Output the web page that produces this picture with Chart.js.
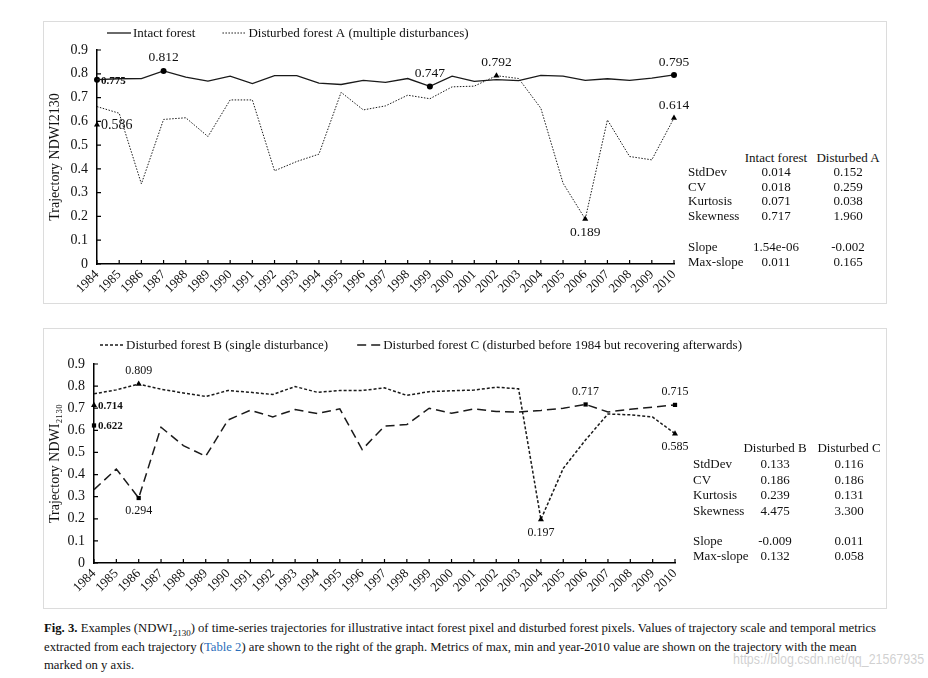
<!DOCTYPE html>
<html>
<head>
<meta charset="utf-8">
<script src="https://cdn.jsdelivr.net/npm/chart.js@4.4.0/dist/chart.umd.min.js"></script>
<style>
  body { margin: 0; background: #fff; width: 928px; height: 678px; position: relative; overflow: hidden;
         font-family: "Liberation Serif", "Times New Roman", serif; color: #111; }
  .panel { position: absolute; left: 43px; width: 842px; border: 1px solid #dcdcdc; }
  #p1 { top: 21px; height: 281px; }
  #p2 { top: 328px; height: 279px; }
  .panel canvas { position: absolute; left: 0; top: 0; }
  .cell { position: absolute; white-space: nowrap; font-size: 13px; line-height: 16px; transform: translateY(-50%); }
  .mid { transform: translate(-50%, -50%); }
  #caption { position: absolute; left: 44px; top: 619px; font-size: 12.7px; line-height: 18.5px; color: #111; white-space: nowrap; }
  #caption sub { font-size: 9px; line-height: 0; }
  #caption a { color: #2a6ebb; text-decoration: none; }
  #wm { position: absolute; left: 733px; top: 650px; font-family: "Liberation Sans", sans-serif;
        font-size: 15px; color: rgba(170,170,170,0.55); white-space: nowrap;
        transform: scaleX(0.83); transform-origin: left center; }
</style>
</head>
<body>
<div class="panel" id="p1"><canvas id="chartTop" width="650" height="280"></canvas></div>
<div class="panel" id="p2"><canvas id="chartBottom" width="740" height="278"></canvas></div>
<div id="caption">
  <b>Fig. 3.</b> Examples (NDWI<sub>2130</sub>) of time-series trajectories for illustrative intact forest pixel and disturbed forest pixels. Values of trajectory scale and temporal metrics<br>
  extracted from each trajectory (<a>Table 2</a>) are shown to the right of the graph. Metrics of max, min and year-2010 value are shown on the trajectory with the mean<br>
  marked on y axis.
</div>
<div id="wm">https://blog.csdn.net/qq_21567935</div>

<script>
// years on the x axis
const years = ["1984", "1985", "1986", "1987", "1988", "1989", "1990", "1991", "1992", "1993", "1994",
  "1995", "1996", "1997", "1998", "1999", "2000", "2001", "2002", "2003", "2004", "2005", "2006",
  "2007", "2008", "2009", "2010"]
const yTickValues = [0, 0.1, 0.2, 0.3, 0.4, 0.5, 0.6, 0.7, 0.8, 0.9]

// NDWI2130 trajectories
const intact = [0.775, 0.779, 0.780, 0.812, 0.786, 0.769, 0.790, 0.759, 0.792, 0.792, 0.761, 0.755, 0.772, 0.764,
  0.780, 0.747, 0.790, 0.768, 0.775, 0.771, 0.793, 0.790, 0.772, 0.779, 0.772, 0.782, 0.795]
const distA = [0.662, 0.634, 0.337, 0.608, 0.615, 0.536, 0.690, 0.690, 0.392, 0.431, 0.462, 0.722, 0.648, 0.665,
  0.710, 0.695, 0.745, 0.748, 0.792, 0.780, 0.655, 0.340, 0.189, 0.606, 0.452, 0.438, 0.614]
const distB = [0.765, 0.783, 0.809, 0.786, 0.769, 0.753, 0.780, 0.772, 0.762, 0.798, 0.772, 0.780, 0.780, 0.792,
  0.758, 0.775, 0.779, 0.782, 0.795, 0.788, 0.197, 0.428, 0.557, 0.674, 0.670, 0.660, 0.585]
const distC = [0.332, 0.425, 0.294, 0.614, 0.531, 0.483, 0.647, 0.691, 0.661, 0.694, 0.676, 0.697, 0.513, 0.619,
  0.626, 0.700, 0.677, 0.697, 0.685, 0.683, 0.690, 0.700, 0.717, 0.683, 0.695, 0.705, 0.715]

// means marked on the y axis
const intactMean = 0.775
const distAMean = 0.586
const distBMean = 0.714
const distCMean = 0.622

// metrics tables
const metricNames = ["StdDev", "CV", "Kurtosis", "Skewness", "Slope", "Max-slope"]
const intactMetrics = ["0.014", "0.018", "0.071", "0.717", "1.54e-06", "0.011"]
const distAMetrics = ["0.152", "0.259", "0.038", "1.960", "-0.002", "0.165"]
const distBMetrics = ["0.133", "0.186", "0.239", "4.475", "-0.009", "0.132"]
const distCMetrics = ["0.116", "0.186", "0.131", "3.300", "0.011", "0.058"]

const SERIF = "'Liberation Serif', 'Times New Roman', serif"

// index of max, min and last value
function markIndices(arr) {
  let hi = 0, lo = 0
  arr.forEach((v, i) => { if (v > arr[hi]) hi = i; if (v < arr[lo]) lo = i })
  return [hi, lo, arr.length - 1]
}

// one trajectory: max / min / 2010 get a marker and a value label
function trajectory(name, data, style, dash, width, radius, positions) {
  const idx = markIndices(data)
  return {
    label: name, data: data, borderColor: "#1a1a1a", borderWidth: width, borderDash: dash,
    pointStyle: style, pointRadius: data.map((v, i) => idx.includes(i) ? radius : 0),
    pointBackgroundColor: "#000", pointBorderColor: "#000", pointBorderWidth: 0,
    tension: 0, fill: false, clip: false,
    marks: idx.map((i, k) => ({ i: i, pos: positions[k] })),
  }
}

// mean point sitting on the y axis (first category)
function meanPoint(value, style, radius, font) {
  return {
    label: "mean", legend: false, data: years.map((y, i) => i === 0 ? value : null),
    showLine: false, pointStyle: style, pointRadius: radius, pointBackgroundColor: "#000",
    pointBorderWidth: 0, clip: false, marks: [{ i: 0, pos: "right", font: font }],
  }
}

// value labels next to the marked points
const markLabels = {
  id: "markLabels",
  afterDatasetsDraw(chart, args, opts) {
    const ctx = chart.ctx
    ctx.save()
    ctx.fillStyle = "#111"
    ctx.textBaseline = "middle"
    chart.data.datasets.forEach((ds, di) => {
      if (!ds.marks) return
      const meta = chart.getDatasetMeta(di)
      ds.marks.forEach((m) => {
        const pt = meta.data[m.i]
        const text = ds.data[m.i].toFixed(3)
        ctx.font = m.font || opts.font
        if (m.pos === "right") {
          ctx.textAlign = "left"
          ctx.fillText(text, pt.x + 4, pt.y + 1)
        } else {
          ctx.textAlign = "center"
          ctx.fillText(text, pt.x, pt.y + (m.pos === "above" ? -opts.offset : opts.offset))
        }
      })
    })
    ctx.restore()
  },
}

// legend drawn as line sample + text in a row
const lineLegend = {
  id: "lineLegend",
  afterDraw(chart, args, opts) {
    const ctx = chart.ctx
    ctx.save()
    ctx.font = "13px " + SERIF
    ctx.fillStyle = "#111"
    ctx.textBaseline = "middle"
    ctx.textAlign = "left"
    let x = opts.x
    chart.data.datasets.forEach((ds) => {
      if (ds.legend === false) return
      ctx.strokeStyle = ds.borderColor
      ctx.lineWidth = ds.borderWidth
      ctx.setLineDash(ds.borderDash || [])
      ctx.beginPath()
      ctx.moveTo(x, opts.y)
      ctx.lineTo(x + 24, opts.y)
      ctx.stroke()
      ctx.fillText(ds.label, x + 26, opts.y + 1)
      x += 26 + ctx.measureText(ds.label).width + opts.gap
    })
    ctx.restore()
  },
}

// tick marks pointing into the plot
const insideTicks = {
  id: "insideTicks",
  afterDraw(chart) {
    const ctx = chart.ctx
    const { x, y } = chart.scales
    ctx.save()
    ctx.strokeStyle = "#000"
    ctx.lineWidth = 1.2
    ctx.beginPath()
    x.ticks.forEach((t, i) => {
      const px = x.getPixelForTick(i)
      ctx.moveTo(px, y.bottom)
      ctx.lineTo(px, y.bottom - 4)
    })
    y.ticks.forEach((t, i) => {
      const py = y.getPixelForTick(i)
      ctx.moveTo(x.left, py)
      ctx.lineTo(x.left + 4, py)
    })
    ctx.stroke()
    ctx.restore()
  },
}

function makeChart(id, datasets, cfg) {
  return new Chart(document.getElementById(id), {
    type: "line",
    data: { labels: years, datasets: datasets },
    plugins: [markLabels, lineLegend, insideTicks],
    options: {
      responsive: false,
      animation: false,
      layout: { padding: { left: 0, top: cfg.top, right: cfg.right, bottom: 0 } },
      plugins: {
        legend: { display: false },
        tooltip: { enabled: false },
        markLabels: { font: cfg.labelFont, offset: cfg.labelOffset },
        lineLegend: cfg.legend,
      },
      scales: {
        x: {
          grid: { display: false, drawTicks: false },
          border: { color: "#000", width: 1.5 },
          ticks: { autoSkip: false, maxRotation: 45, minRotation: 45, padding: 3, color: "#111",
                   font: { family: SERIF, size: 13 } },
          afterFit: (s) => { s.height = cfg.xHeight },
        },
        y: {
          min: yTickValues[0],
          max: yTickValues[yTickValues.length - 1],
          grid: { display: false, drawTicks: false },
          border: { color: "#000", width: 1.5 },
          ticks: { stepSize: 0.1, padding: 9, color: "#111", font: { family: SERIF, size: 14 },
                   callback: (v) => { const t = yTickValues.find((q) => Math.abs(q - v) < 1e-6); return t === 0 ? "0" : t.toFixed(1) } },
          title: { display: true, text: cfg.yTitle, color: "#111", font: { family: SERIF, size: 14 }, padding: { top: 3, bottom: 0 } },
          afterFit: (s) => { s.width = cfg.yWidth },
        },
      },
    },
  })
}

makeChart("chartTop", [
  trajectory("Intact forest", intact, "circle", [], 1.3, 3, ["above", "above", "above"]),
  trajectory("Disturbed forest A (multiple disturbances)", distA, "triangle", [1.5, 1.5], 1, 3.5, ["above", "below", "above"]),
  meanPoint(intactMean, "circle", 3, "bold 11px " + SERIF),
  meanPoint(distAMean, "triangle", 3.5, "14px " + SERIF),
], { top: 28, right: 20, xHeight: 38, yWidth: 53, yTitle: "Trajectory NDWI2130",
     labelFont: "13.5px " + SERIF, labelOffset: 13, legend: { x: 63, y: 11, gap: 27 } })

makeChart("chartBottom", [
  trajectory("Disturbed forest B (single disturbance)", distB, "triangle", [3, 2], 1.5, 3.5, ["above", "below", "below"]),
  trajectory("Disturbed forest C (disturbed before 1984 but recovering afterwards)", distC, "rect", [9, 5], 1.5, 3, ["above", "below", "above"]),
  meanPoint(distBMean, "triangle", 3.5, "bold 11px " + SERIF),
  meanPoint(distCMean, "rect", 3, "bold 11px " + SERIF),
], { top: 35, right: 109, xHeight: 44, yWidth: 50, yTitle: "Trajectory NDWI\u2082\u2081\u2083\u2080",
     labelFont: "12px " + SERIF, labelOffset: 13, legend: { x: 56, y: 16, gap: 29 } })

// metrics tables to the right of each chart
function metricsTable(headers, cols, colX, labelX, headerY, rowY) {
  const add = (text, x, y, center) => {
    const d = document.createElement("div")
    d.className = center ? "cell mid" : "cell"
    d.textContent = text
    d.style.left = x + "px"
    d.style.top = y + "px"
    document.body.appendChild(d)
  }
  headers.forEach((h, c) => add(h, colX[c], headerY, true))
  metricNames.forEach((name, r) => {
    add(name, labelX, rowY[r], false)
    cols.forEach((col, c) => add(col[r], colX[c], rowY[r], true))
  })
}

metricsTable(["Intact forest", "Disturbed A"], [intactMetrics, distAMetrics], [776, 848], 688,
  158, [172, 187, 201, 216, 247, 262])
metricsTable(["Disturbed B", "Disturbed C"], [distBMetrics, distCMetrics], [775, 849], 693,
  448, [464, 480, 495, 511, 541, 556])
</script>
</body>
</html>
